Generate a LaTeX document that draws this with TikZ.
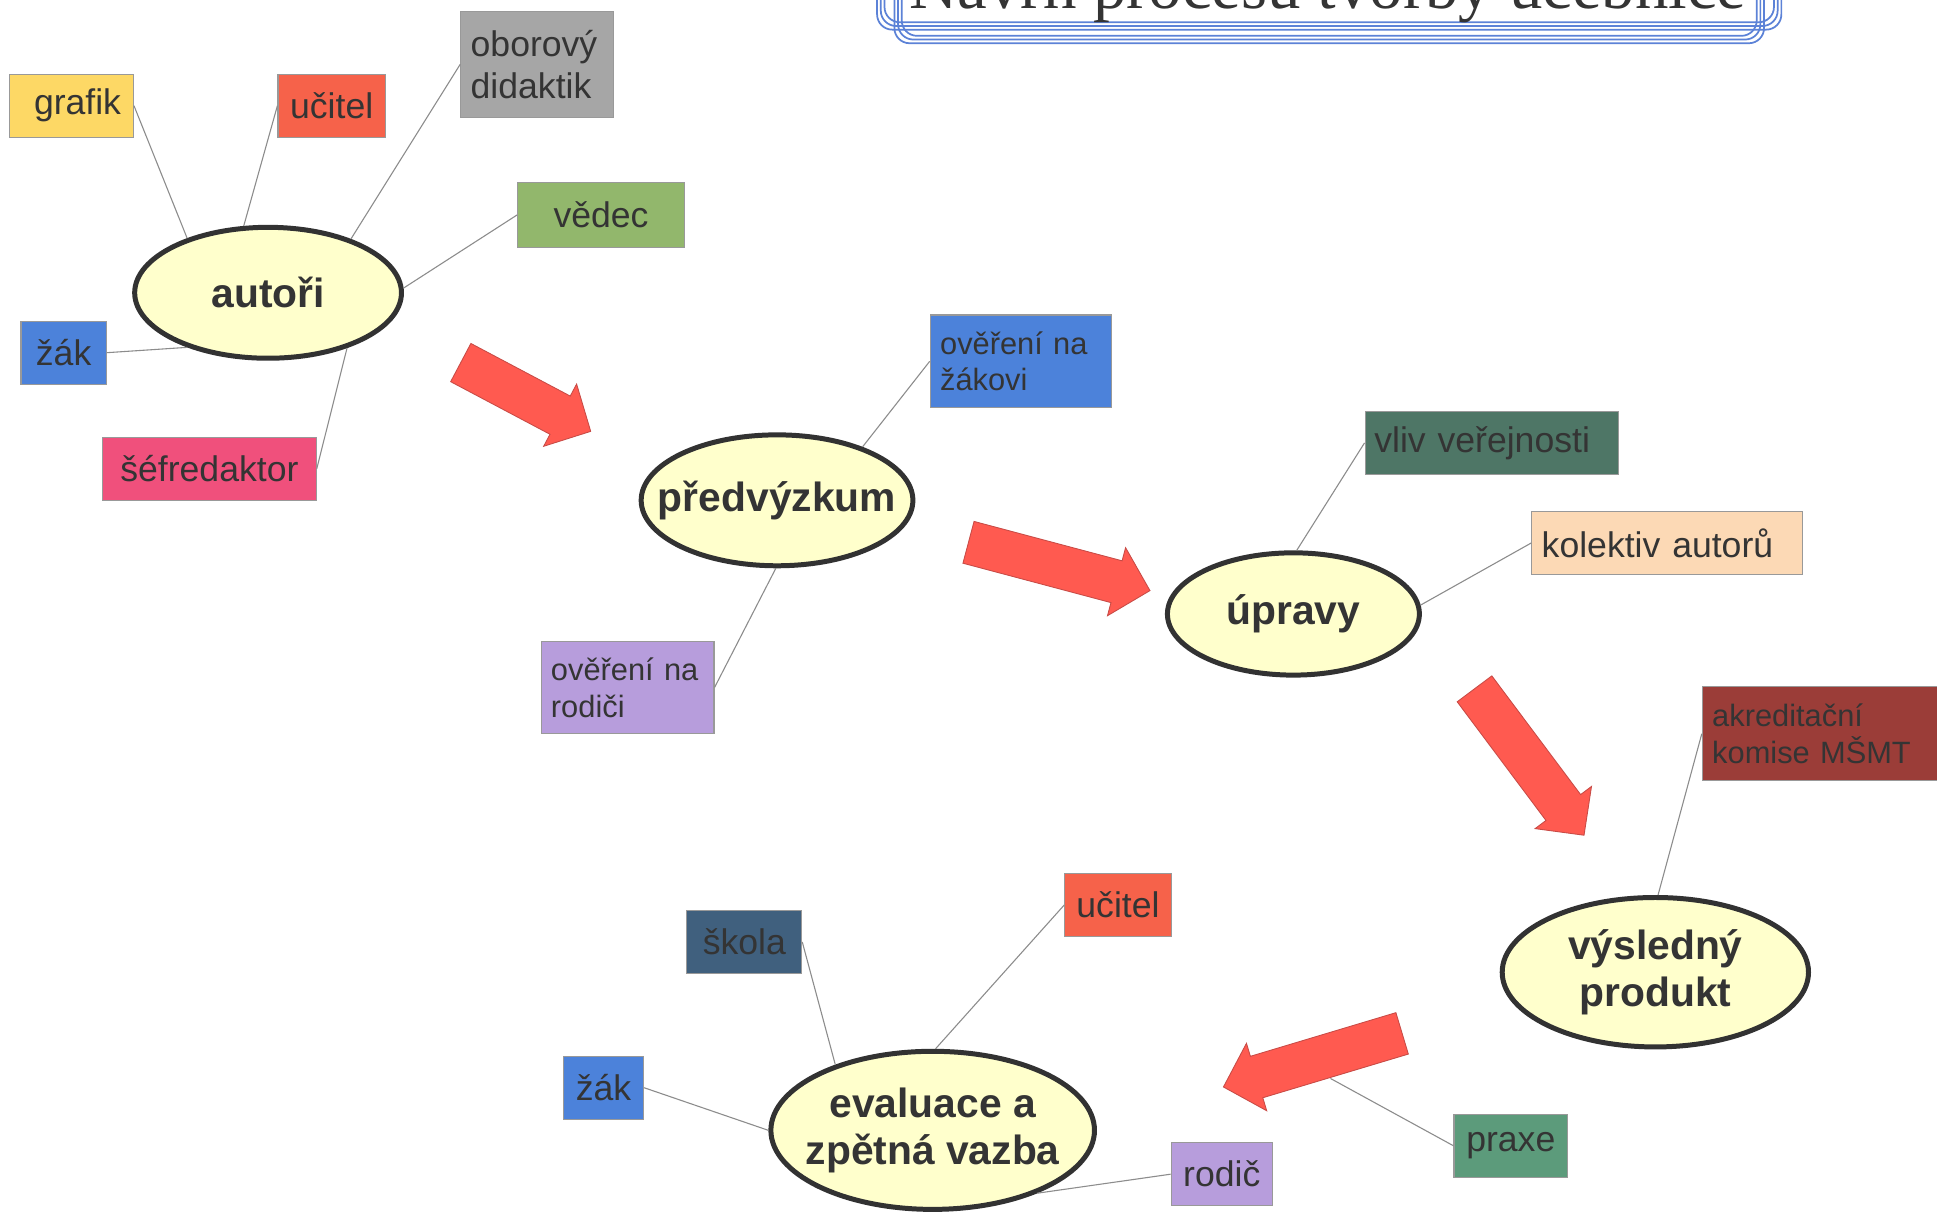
\documentclass[tikz,border=0pt]{standalone}
\usepackage{fontspec}
\setmainfont{Liberation Sans}
\newfontfamily\titlefont{Liberation Serif}
\usepackage{tikz}
\usetikzlibrary{shapes.geometric}

\begin{document}
\begin{tikzpicture}[x  = {(0.02cm,0cm)},
                    y  = {(0cm,-0.02cm)},
                    scale = 1]


  % PAGE
  \useasboundingbox (0,0) rectangle (1568,984);
  \clip (0,0) rectangle (1568,984);
  \fill[white] (0,0) rectangle (1568,984);


  % COLORS
  \definecolor{ramecek}{RGB}{92,130,215}
  \definecolor{pismo}{RGB}{52,52,52}
  \definecolor{elipsa}{RGB}{255,255,204}
  \definecolor{okraj}{RGB}{50,50,50}
  \definecolor{cara}{RGB}{140,140,140}
  \definecolor{sipka}{RGB}{255,90,80}
  \definecolor{sipkaokraj}{RGB}{200,75,70}
  \definecolor{zluta}{RGB}{253,216,101}
  \definecolor{cervena}{RGB}{246,98,74}
  \definecolor{seda}{RGB}{166,166,166}
  \definecolor{zelena}{RGB}{146,183,108}
  \definecolor{modra}{RGB}{76,130,218}
  \definecolor{ruzova}{RGB}{240,80,124}
  \definecolor{fialova}{RGB}{183,157,220}
  \definecolor{tmavozelena}{RGB}{78,118,102}
  \definecolor{pletova}{RGB}{252,217,181}
  \definecolor{hneda}{RGB}{155,61,56}
  \definecolor{tmavomodra}{RGB}{64,96,126}
  \definecolor{mentolova}{RGB}{92,155,123}


  % STYLES
  \tikzstyle{ramstyle} = [draw=ramecek, line width=0.8pt, rounded corners=7pt]
  \tikzstyle{elipsastyle} = [ellipse, fill=elipsa, draw=okraj, line width=2.3pt, inner sep=-1cm, align=center, text=pismo, font=\bfseries\fontsize{18.8}{22}\selectfont]
  \tikzstyle{pojemstyle} = [rectangle, draw=gray!80, line width=0.5pt, inner sep=0pt, align=center, text=pismo, font=\fontsize{16.4}{19.4}\selectfont]
  \tikzstyle{malystyle} = [pojemstyle, align=left, font=\fontsize{14.2}{17}\selectfont]
  \tikzstyle{carastyle} = [draw=cara, line width=0.5pt]
  \tikzstyle{sipkastyle} = [fill=sipka, draw=sipkaokraj, line width=0.4pt, line join=miter]


  % TITLE
  \draw[ramstyle] (710,-80) rectangle (1442,24);
  \draw[ramstyle] (713,-80) rectangle (1439,21);
  \draw[ramstyle] (716,-80) rectangle (1436,18);
  \draw[ramstyle] (724,-80) rectangle (1428,35);
  \draw[ramstyle] (727,-80) rectangle (1425,32);
  \draw[ramstyle] (730,-80) rectangle (1422,29);
  \node[anchor=base, text=pismo, font=\titlefont\fontsize{30.8}{36}\selectfont] (nadpis) at (1075,7) {Návrh procesu tvorby učebnice};


  % ELLIPSES
  \node[elipsastyle, minimum width=4.32cm, minimum height=2.12cm] (autori) at (217,237) {autoři};
  \node[elipsastyle, minimum width=4.40cm, minimum height=2.12cm] (predvyzkum) at (629,405) {předvýzkum};
  \node[elipsastyle, minimum width=4.08cm, minimum height=1.98cm] (upravy) at (1047,497) {úpravy};
  \node[elipsastyle, minimum width=4.96cm, minimum height=2.42cm] (vysledny) at (1340,787) {výsledný\\produkt};
  \node[elipsastyle, minimum width=5.24cm, minimum height=2.56cm] (evaluace) at (755,915) {evaluace a\\zpětná vazba};


  % BOXES
  \node[pojemstyle, fill=zluta, minimum width=2.00cm, minimum height=1.02cm, text width=1.60cm, align=right] (grafik) at (58,85.5) {grafik};
  \node[pojemstyle, fill=cervena, minimum width=1.74cm, minimum height=1.02cm] (ucitel_a) at (268.5,85.5) {učitel};
  \node[pojemstyle, fill=seda, align=left, text width=2.16cm, minimum width=2.48cm, minimum height=1.72cm] (didaktik) at (435,52) {oborový\\didaktik};
  \node[pojemstyle, fill=zelena, minimum width=2.70cm, minimum height=1.04cm] (vedec) at (486.5,174) {vědec};
  \node[pojemstyle, fill=modra, minimum width=1.38cm, minimum height=1.02cm] (zak_a) at (51.5,285.5) {žák};
  \node[pojemstyle, fill=ruzova, minimum width=3.46cm, minimum height=1.02cm] (sefredaktor) at (169.5,379.5) {šéfredaktor};
  \node[malystyle, fill=modra, text width=2.62cm, minimum width=2.94cm, minimum height=1.50cm] (overeni_zak) at (826.5,292.5) {ověření na\\žákovi};
  \node[malystyle, fill=fialova, text width=2.48cm, minimum width=2.80cm, minimum height=1.50cm] (overeni_rodic) at (508,556.5) {ověření na\\rodiči};
  \node[pojemstyle, fill=tmavozelena, minimum width=4.10cm, minimum height=1.02cm, text width=3.80cm, align=left] (vliv) at (1207.5,358.5) {vliv veřejnosti};
  \node[pojemstyle, fill=pletova, minimum width=4.38cm, minimum height=1.02cm, text width=4.06cm, align=left] (kolektiv) at (1349.5,439.5) {kolektiv autorů};
  \node[malystyle, fill=hneda, text width=3.92cm, minimum width=4.24cm, minimum height=1.52cm] (akreditace) at (1484,594) {akreditační\\komise MŠMT};
  \node[pojemstyle, fill=tmavomodra, minimum width=1.86cm, minimum height=1.02cm] (skola) at (602.5,762.5) {škola};
  \node[pojemstyle, fill=cervena, minimum width=1.72cm, minimum height=1.02cm] (ucitel_b) at (905,732.5) {učitel};
  \node[pojemstyle, fill=modra, minimum width=1.30cm, minimum height=1.02cm] (zak_b) at (488.5,880.5) {žák};
  \node[pojemstyle, fill=fialova, minimum width=1.64cm, minimum height=1.02cm] (rodic) at (989,950.5) {rodič};
  \node[pojemstyle, fill=mentolova, minimum width=1.84cm, minimum height=1.02cm] (praxe) at (1223,927.5) {praxe};


  % EDGES
  \coordinate (sipka4_bod) at (1077,873);
  \draw[carastyle] (grafik.east) -- (autori.146);
  \draw[carastyle] (ucitel_a.west) -- (autori.110);
  \draw[carastyle] (didaktik.west) -- (autori.33);
  \draw[carastyle] (vedec.west) -- (autori.2);
  \draw[carastyle] (zak_a.east) -- (autori.214);
  \draw[carastyle] (sefredaktor.east) -- (autori.325);
  \draw[carastyle] (overeni_zak.west) -- (predvyzkum.32);
  \draw[carastyle] (overeni_rodic.east) -- (predvyzkum.269);
  \draw[carastyle] (vliv.west) -- (upravy.87);
  \draw[carastyle] (kolektiv.west) -- (upravy.4);
  \draw[carastyle] (akreditace.west) -- (vysledny.88);
  \draw[carastyle] (skola.east) -- (evaluace.146);
  \draw[carastyle] (ucitel_b.west) -- (evaluace.88);
  \draw[carastyle] (zak_b.east) -- (evaluace.180);
  \draw[carastyle] (rodic.west) -- (evaluace.329);
  \draw[carastyle] (praxe.west) -- (sipka4_bod);


  % ARROWS
  \begin{scope}[shift={(373,293.5)}, rotate=-27.9]
    \draw[sipkastyle] (0,17.5) -- (91,17.5) -- (91,28.5) -- (119,0) -- (91,-28.5) -- (91,-17.5) -- (0,-17.5) -- cycle;
  \end{scope}
  \begin{scope}[shift={(784,439)}, rotate=-14.9]
    \draw[sipkastyle] (0,17.5) -- (124,17.5) -- (124,28.5) -- (152,0) -- (124,-28.5) -- (124,-17.5) -- (0,-17.5) -- cycle;
  \end{scope}
  \begin{scope}[shift={(1193.6,557.6)}, rotate=-53.2]
    \draw[sipkastyle] (0,17.5) -- (120,17.5) -- (120,28.5) -- (148,0) -- (120,-28.5) -- (120,-17.5) -- (0,-17.5) -- cycle;
  \end{scope}
  \begin{scope}[shift={(1135,836.5)}, rotate=196.7]
    \draw[sipkastyle] (0,17.5) -- (123,17.5) -- (123,28.5) -- (151,0) -- (123,-28.5) -- (123,-17.5) -- (0,-17.5) -- cycle;
  \end{scope}

\end{tikzpicture}
\end{document}
